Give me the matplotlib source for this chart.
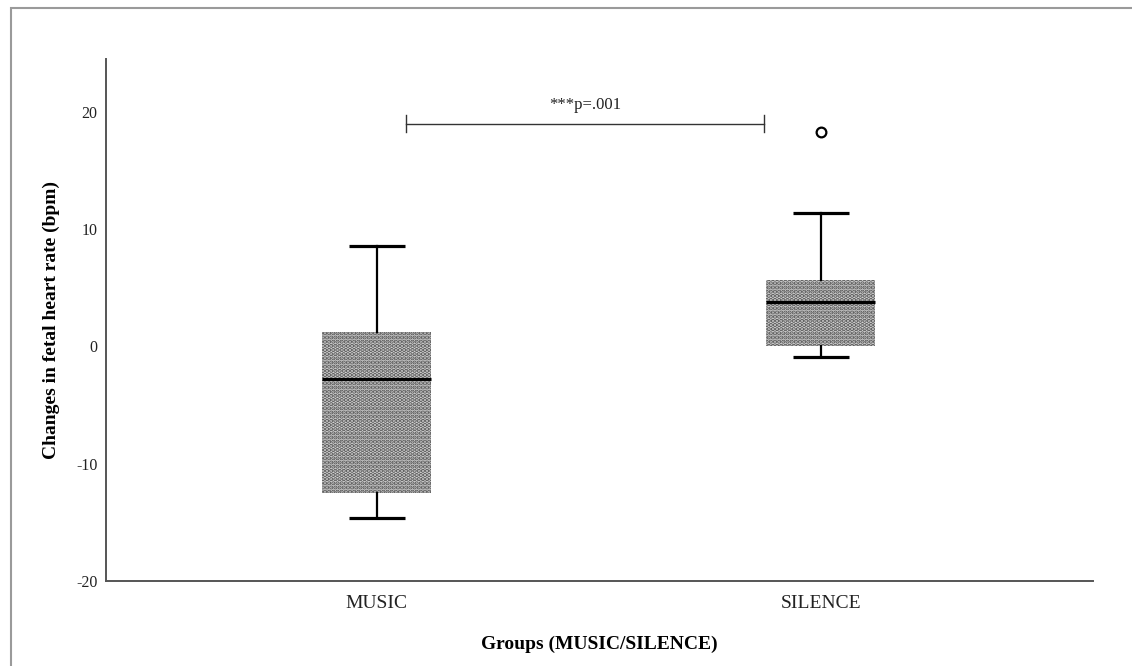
import matplotlib
matplotlib.use("Agg")
import matplotlib.pyplot as plt
from matplotlib.patches import Rectangle

# Box-plot summary statistics (bpm)
groups = ["MUSIC", "SILENCE"]
medians = [-2.8, 3.8]
q1s = [-12.5, 0.0]
q3s = [1.2, 5.7]
whisker_lo = [-14.6, -0.9]
whisker_hi = [8.6, 11.4]
outliers = [[], [18.3]]

y_ticks = [20, 10, 0, -10, -20]
y_tick_labels = ["20", "10", "0", "-10", "-20"]

sig_y = 19.0
sig_text = "***p=.001"

serif = ["Liberation Serif", "DejaVu Serif"]
plt.rcParams["font.family"] = serif
plt.rcParams["hatch.linewidth"] = 2.2

fig = plt.figure(figsize=(11.32, 6.66), dpi=100)
ax = fig.add_axes([106 / 1132, 1 - 581 / 666, (1093 - 106) / 1132, (581 - 59) / 666])

stats = []
for i, g in enumerate(groups):
    stats.append(dict(label=g, med=medians[i], q1=q1s[i], q3=q3s[i],
                      whislo=whisker_lo[i], whishi=whisker_hi[i],
                      fliers=outliers[i]))

positions = [1, 2]
bp = ax.bxp(stats, positions=positions, widths=0.245, patch_artist=True,
            showfliers=True,
            boxprops=dict(facecolor="#d2d2d2", edgecolor="#555555", linewidth=0,
                          hatch="...."),
            medianprops=dict(color="black", linewidth=2.3, solid_capstyle="butt"),
            whiskerprops=dict(color="black", linewidth=1.6),
            capprops=dict(color="black", linewidth=2.3, solid_capstyle="butt"),
            capwidths=0.126,
            flierprops=dict(marker="o", markersize=7, markerfacecolor="white",
                            markeredgecolor="black", markeredgewidth=1.6))

# Significance bracket between the groups
x0, x1 = 1.065, 1.872
ax.plot([x0, x1], [sig_y, sig_y], color="#333333", lw=1.0)
for xe in (x0, x1):
    ax.plot([xe, xe], [sig_y - 0.75, sig_y + 0.75], color="#333333", lw=1.0)
ax.text((x0 + x1) / 2, sig_y + 0.9, sig_text, ha="center", va="bottom",
        fontsize=12, color="#222222")

ax.set_xlim(0.39, 2.613)
ax.set_ylim(-20, 24.5)
ax.set_xticks(positions)
ax.set_xticklabels(groups, fontsize=14, color="#222222")
ax.set_yticks(y_ticks)
ax.set_yticklabels(y_tick_labels, fontsize=11.5, color="#222222")
ax.tick_params(axis="both", length=0)
ax.tick_params(axis="y", pad=6)
ax.tick_params(axis="x", pad=10)

for side in ("top", "right"):
    ax.spines[side].set_visible(False)
for side in ("left", "bottom"):
    ax.spines[side].set_color("#555555")
    ax.spines[side].set_linewidth(1.4)

ax.set_ylabel("Changes in fetal heart rate (bpm)", fontsize=14, fontweight="bold",
              labelpad=12)
ax.set_xlabel("Groups (MUSIC/SILENCE)", fontsize=14, fontweight="bold", labelpad=17)

# Outer frame around the chart
fig.patches.append(Rectangle((11 / 1132, -0.05), 1.1, 1 - 8 / 666 + 0.05,
                             transform=fig.transFigure, fill=False,
                             edgecolor="#9a9a9a", linewidth=1.5))

fig.savefig("out.png", dpi=100)
